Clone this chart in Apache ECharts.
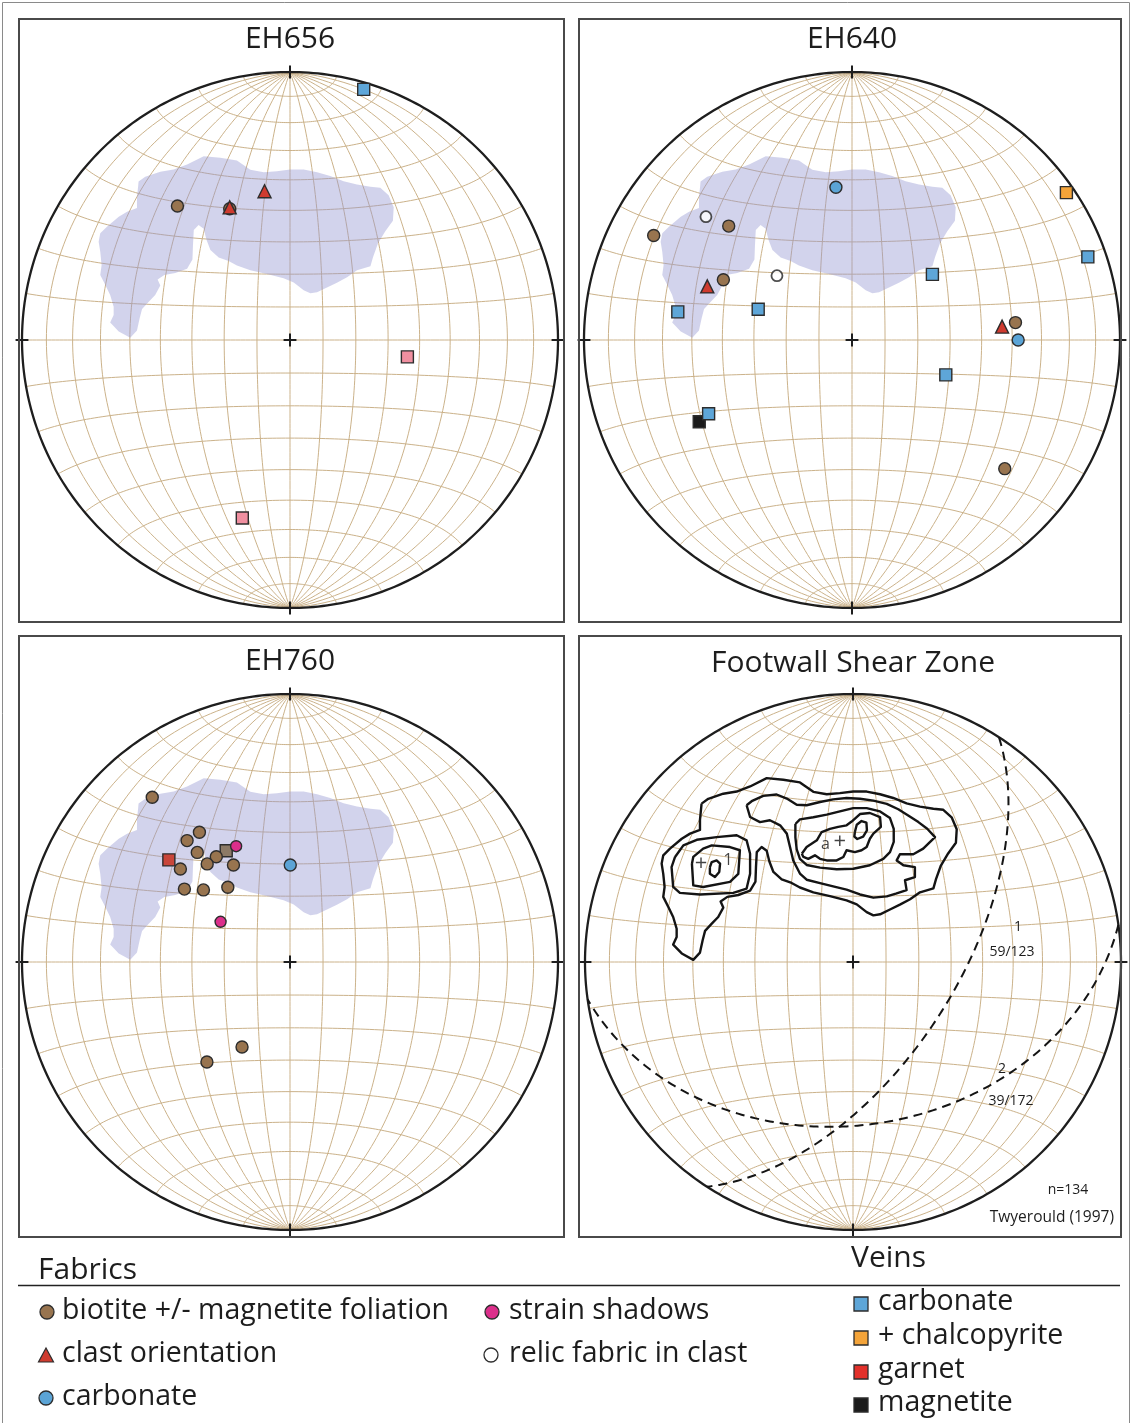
<!DOCTYPE html>
<html>
<head>
<meta charset="utf-8">
<script src="https://cdn.jsdelivr.net/npm/echarts@6/dist/echarts.min.js"></script>
<style>
  html, body { margin: 0; padding: 0; background: #fff; }
  #chart { width: 1132px; height: 1423px; }
</style>
</head>
<body>
<div id="chart"></div>
<script>
// ---------------------------------------------------------------------------
// Poles plotted on a lower-hemisphere equal-area (Schmidt) net.
// Every position is [east, north] in percent of the net radius.
// ---------------------------------------------------------------------------

// EH656
const eh656Biotite   = [[-42, 50], [-22.5, 49]];
const eh656Clast     = [[-22.5, 49.5], [-9.5, 55.5]];
const eh656VeinCarb  = [[27.5, 93.5]];
const eh656VeinPink  = [[43.8, -6.3], [-17.8, -66.4]];

// EH640
const eh640Biotite   = [[-46, 42.5], [-74, 39], [-48, 22.5], [61, 6.5], [57, -48]];
const eh640Clast     = [[-54, 20], [56, 5]];
const eh640Carb      = [[-6, 57], [62, 0]];
const eh640Relic     = [[-54.5, 46], [-28, 24]];
const eh640VeinMag   = [[-57, -30.5]];
const eh640VeinCarb  = [[88, 31], [30, 24.5], [-35, 11.5], [-65, 10.5], [35, -13], [-53.5, -27.5]];
const eh640VeinCpy   = [[80, 55]];

// EH760
const eh760VeinOther = [[-23.8, 41.5]];
const eh760Biotite   = [[-51.4, 61.5], [-33.8, 48.4], [-38.4, 45.3], [-34.6, 40.9], [-27.5, 39.3],
                        [-30.9, 36.6], [-21.1, 36.2], [-40.9, 34.7], [-39.4, 27.2], [-32.3, 26.9],
                        [-23.2, 27.9], [-31.0, -37.3], [-17.9, -31.7]];
const eh760Strain    = [[-20.1, 43.2], [-25.9, 15.0]];
const eh760Carb      = [[0.1, 36.2]];
const eh760VeinGarnet = [[-45.2, 38.1]];

// Footwall shear zone: density contours of 134 poles (Twyerould 1997).
// The lowest contour is also the shaded field on the three drill-hole nets.
const contourOuter = [
  [-56.5, 59.1], [-54.0, 60.9], [-48.4, 62.8], [-43.4, 63.6], [-38.4, 65.5], [-32.2, 68.6],
  [-26.0, 68.0], [-19.8, 67.0], [-14.8, 63.5], [-9.8, 62.6], [-4.9, 63.0], [0.1, 63.6],
  [5.1, 63.6], [10.1, 62.6], [15.0, 61.2], [20.0, 59.2], [25.0, 58.0], [30.0, 57.2],
  [33.7, 56.8], [36.8, 54.0], [38.7, 49.5], [38.4, 44.5], [35.5, 40.5], [32.8, 36.0],
  [31.0, 31.0], [30.0, 27.5], [25.0, 26.0], [21.3, 23.4], [17.5, 21.4], [13.8, 19.6],
  [10.1, 17.8], [7.6, 17.4], [5.1, 18.6], [1.4, 21.5], [-2.4, 23.0], [-8.6, 24.6],
  [-14.8, 26.0], [-19.8, 27.8], [-22.9, 29.5], [-26.6, 30.8], [-29.7, 33.6], [-31.2, 37.5],
  [-32.2, 41.5], [-34.1, 42.9], [-35.9, 41.0], [-36.2, 35.4], [-36.4, 30.0], [-38.4, 26.6],
  [-42.8, 25.0], [-46.9, 24.3], [-49.4, 22.6], [-48.4, 20.3], [-50.3, 16.8], [-52.7, 14.3],
  [-55.2, 11.6], [-56.1, 8.1], [-57.1, 3.5], [-59.6, 0.8], [-63.9, 3.2], [-67.1, 6.5],
  [-65.8, 9.3], [-65.8, 12.4], [-67.1, 16.8], [-68.9, 20.5], [-70.8, 24.3], [-70.3, 28.0],
  [-70.8, 32.9], [-71.4, 36.7], [-70.8, 39.8], [-68.3, 42.3], [-63.9, 46.0], [-60.8, 47.9],
  [-57.1, 49.3], [-57.1, 53.0]
];
const contourWest2 = [
  [-66.4, 39.2], [-63.3, 43.5], [-58.3, 45.6], [-50.9, 46.6], [-43.4, 47.3], [-39.7, 45.4],
  [-38.4, 40.4], [-38.4, 32.9], [-39.7, 27.4], [-44.7, 25.8], [-57.1, 25.2], [-64.6, 25.8],
  [-67.1, 28.0], [-67.7, 35.4]
];
const contourWest3 = [
  [-60.1, 36.7], [-59.6, 28.6], [-55.9, 28.0], [-45.9, 29.9], [-42.8, 32.9], [-42.2, 41.7],
  [-45.9, 42.9], [-52.7, 43.5], [-55.9, 42.3], [-59.6, 39.2]
];
const contourWest4 = [
  [-53.4, 35.4], [-52.7, 37.3], [-50.9, 37.9], [-49.6, 36.7], [-49.9, 33.6], [-51.5, 31.7], [-53.4, 32.9]
];
const contourEast2 = [
  [-39.7, 58.5], [-37.8, 60.0], [-33.5, 62.0], [-28.5, 62.5], [-24.7, 61.0], [-21.0, 58.7],
  [-17.3, 58.5], [-12.3, 59.7], [-7.4, 60.7], [-2.4, 61.2], [2.6, 60.9], [7.6, 60.2],
  [12.6, 59.0], [16.9, 57.0], [20.6, 54.7], [24.4, 52.2], [27.7, 49.7], [30.6, 46.6],
  [26.2, 42.3], [22.5, 40.2], [17.5, 40.2], [16.3, 37.9], [18.8, 36.1], [23.1, 35.4],
  [23.1, 31.7], [19.4, 30.5], [20.0, 26.8], [16.0, 25.5], [12.6, 24.5], [7.6, 24.0],
  [2.6, 25.2], [-2.4, 27.0], [-7.4, 28.2], [-12.3, 29.4], [-17.3, 30.7], [-19.8, 33.0],
  [-22.3, 37.9], [-23.5, 42.9], [-24.7, 47.9], [-27.2, 51.0], [-31.0, 52.9], [-34.7, 52.2],
  [-38.4, 54.1]
];
const contourEast3 = [
  [-21.5, 51.5], [-19.8, 53.2], [-14.8, 54.0], [-9.8, 55.0], [-4.9, 56.2], [0.1, 57.4],
  [5.1, 57.4], [10.1, 56.2], [13.8, 53.7], [15.2, 49.7], [15.2, 44.8], [13.8, 41.0],
  [11.3, 38.5], [6.3, 36.1], [0.1, 34.8], [-6.1, 34.6], [-12.3, 35.2], [-17.3, 36.2],
  [-19.8, 38.5], [-21.0, 42.0], [-21.5, 46.5]
];
const contourEast4 = [
  [-19.1, 40.4], [-17.3, 42.9], [-13.5, 45.4], [-11.7, 48.5], [-8.6, 49.7], [-5.5, 50.4],
  [-2.4, 51.0], [-0.5, 52.4], [2.6, 55.2], [6.3, 55.6], [10.1, 54.1], [10.4, 50.4],
  [7.6, 47.9], [6.3, 46.0], [5.1, 42.9], [3.2, 41.7], [0.7, 41.0], [-2.4, 41.7],
  [-3.6, 39.2], [-6.1, 37.9], [-9.8, 37.9], [-12.3, 38.5], [-14.2, 39.8], [-16.7, 38.5], [-18.5, 39.2]
];
const contourEast5 = [
  [0.7, 48.5], [1.4, 51.2], [3.2, 52.6], [5.0, 52.0], [5.2, 49.1], [3.8, 46.8], [1.6, 45.9], [0.5, 46.8]
];
const contourMaxima = [[-56.7, 36.6], [-4.9, 44.8]];
const contourTags   = [{ pos: [-46.6, 37.8], text: '1' }, { pos: [-10.3, 44.0], text: 'a' }];

// Mean girdles as dip / dip direction
const girdleNames   = ['1', '2'];
const girdleDips    = [59, 39];
const girdleDipDirs = [123, 172];
const sampleCount   = 134;

// Panel titles
const panelTitles = ['EH656', 'EH640', 'EH760', 'Footwall Shear Zone'];

// ---------------------------------------------------------------------------
// Colours
// ---------------------------------------------------------------------------
const C = {
  biotite: '#98744f', clast: '#cf3b2f', carb: '#5ba4d6', strain: '#dc2f8b', relic: '#ffffff',
  veinCarb: '#5ea6d8', veinCpy: '#f4a43a', veinGarnet: '#e2302a', veinMag: '#1b1b1b',
  veinPink: '#f08fa0', veinOther: '#8c7a66', edge: '#2d2d2d', grid: '#cbb28a',
  field: 'rgba(148,150,210,0.42)'
};

// ---------------------------------------------------------------------------
// Equal-area net geometry
// ---------------------------------------------------------------------------
function toNet(n, e, d) {               // unit vector -> lower hemisphere, radius 100
  if (d < 0) { n = -n; e = -e; d = -d; }
  const k = 100 / Math.sqrt(1 + d);
  return [e * k, n * k];
}
function netGraticule() {
  const out = [], N = 120;
  for (let a = 10; a < 180; a += 10) {              // small circles about the N-S axis
    const ar = a * Math.PI / 180, pts = [];
    for (let j = 0; j <= N; j++) {
      const f = Math.PI * j / N;
      pts.push(toNet(Math.cos(ar), Math.sin(ar) * Math.cos(f), Math.sin(ar) * Math.sin(f)));
    }
    out.push({ coords: pts });
  }
  for (let dip = 10; dip < 180; dip += 10) {        // great circles striking N-S
    const dr = dip * Math.PI / 180, pts = [];
    for (let j = 0; j <= N; j++) {
      const t = Math.PI * j / N;
      pts.push(toNet(Math.cos(t), Math.sin(t) * Math.cos(dr), Math.sin(t) * Math.sin(dr)));
    }
    out.push({ coords: pts });
  }
  return out;
}
function primitive() {
  const pts = [];
  for (let j = 0; j <= 360; j++) {
    const a = j * Math.PI / 180;
    pts.push([100 * Math.cos(a), 100 * Math.sin(a)]);
  }
  return [{ coords: pts }];
}
function crosses() {
  const h = 2.4, out = [];
  [[0, 0], [0, 100], [100, 0], [0, -100], [-100, 0]].forEach(([x, y]) => {
    out.push({ coords: [[x - h, y], [x + h, y]] });
    out.push({ coords: [[x, y - h], [x, y + h]] });
  });
  return out;
}
function girdle(dip, dipDir) {
  const s = (dipDir - 90) * Math.PI / 180, dd = dipDir * Math.PI / 180, dr = dip * Math.PI / 180;
  const pts = [];
  for (let j = 0; j <= 180; j++) {
    const b = Math.PI * j / 180;
    const n = Math.cos(b) * Math.cos(s) + Math.sin(b) * Math.cos(dd) * Math.cos(dr);
    const e = Math.cos(b) * Math.sin(s) + Math.sin(b) * Math.sin(dd) * Math.cos(dr);
    pts.push(toNet(n, e, Math.sin(b) * Math.sin(dr)));
  }
  return pts;
}
const closed = arr => arr.concat([arr[0]]);

// ---------------------------------------------------------------------------
// Layout
// ---------------------------------------------------------------------------
const R = 268;
const centres = [[290, 340], [852, 340], [290, 962], [853, 962]];
const frames = [[19, 19, 545, 603], [579, 19, 542, 603], [19, 636, 545, 601], [579, 636, 542, 601]];
const titleY = [39, 39, 661, 663];

const grid = centres.map(([cx, cy]) => ({ left: cx - R, top: cy - R, width: 2 * R, height: 2 * R }));
const xAxis = centres.map((_, i) => ({ type: 'value', gridIndex: i, min: -100, max: 100, show: false }));
const yAxis = centres.map((_, i) => ({ type: 'value', gridIndex: i, min: -100, max: 100, show: false }));

const series = [];
const graticule = netGraticule();

centres.forEach((_, i) => {
  series.push({
    type: 'lines', coordinateSystem: 'cartesian2d', xAxisIndex: i, yAxisIndex: i,
    polyline: true, silent: true, z: 1, data: graticule,
    lineStyle: { color: C.grid, width: 1, opacity: 1 }
  });
  if (i < 3) {
    series.push({
      type: 'custom', xAxisIndex: i, yAxisIndex: i, silent: true, z: 2, data: [[0, 0]],
      renderItem: (params, api) => ({
        type: 'polygon',
        shape: { points: contourOuter.map(p => api.coord(p)) },
        style: { fill: C.field }
      })
    });
  }
  series.push({
    type: 'lines', coordinateSystem: 'cartesian2d', xAxisIndex: i, yAxisIndex: i,
    polyline: true, silent: true, z: 3, data: primitive(),
    lineStyle: { color: '#1e1e1e', width: 2.3, opacity: 1 }
  });
  series.push({
    type: 'lines', coordinateSystem: 'cartesian2d', xAxisIndex: i, yAxisIndex: i,
    polyline: true, silent: true, z: 3, clip: false, data: crosses(),
    lineStyle: { color: '#1e1e1e', width: 2, opacity: 1 }
  });
});

function pts(i, data, symbol, color, size, extra) {
  return Object.assign({
    type: 'scatter', xAxisIndex: i, yAxisIndex: i, data, symbol, symbolSize: size,
    silent: true, clip: false, z: 10,
    itemStyle: { color, borderColor: C.edge, borderWidth: 1.4, opacity: 1 }
  }, extra || {});
}

// EH656
series.push(pts(0, eh656Biotite, 'circle', C.biotite, 12));
series.push(pts(0, eh656Clast, 'triangle', C.clast, 13));
series.push(pts(0, eh656VeinCarb, 'rect', C.veinCarb, 12));
series.push(pts(0, eh656VeinPink, 'rect', C.veinPink, 12));
// EH640
series.push(pts(1, eh640Biotite, 'circle', C.biotite, 12));
series.push(pts(1, eh640Clast, 'triangle', C.clast, 13));
series.push(pts(1, eh640Carb, 'circle', C.carb, 12));
series.push(pts(1, eh640Relic, 'circle', C.relic, 11, { itemStyle: { color: '#fff', borderColor: '#222', borderWidth: 1.8 } }));
series.push(pts(1, eh640VeinMag, 'rect', C.veinMag, 12));
series.push(pts(1, eh640VeinCarb, 'rect', C.veinCarb, 12));
series.push(pts(1, eh640VeinCpy, 'rect', C.veinCpy, 12));
// EH760
series.push(pts(2, eh760VeinOther, 'rect', C.veinOther, 12));
series.push(pts(2, eh760Biotite, 'circle', C.biotite, 12));
series.push(pts(2, eh760Strain, 'circle', C.strain, 11));
series.push(pts(2, eh760Carb, 'circle', C.carb, 12));
series.push(pts(2, eh760VeinGarnet, 'rect', '#c9463a', 12));

// Footwall shear zone
series.push({
  type: 'lines', coordinateSystem: 'cartesian2d', xAxisIndex: 3, yAxisIndex: 3,
  polyline: true, silent: true, z: 6,
  data: [contourOuter, contourWest2, contourWest3, contourWest4,
         contourEast2, contourEast3, contourEast4, contourEast5].map(c => ({ coords: closed(c) })),
  lineStyle: { color: '#141414', width: 2.4, opacity: 1, join: 'round' }
});
series.push({
  type: 'lines', coordinateSystem: 'cartesian2d', xAxisIndex: 3, yAxisIndex: 3,
  polyline: true, silent: true, z: 6,
  data: girdleDips.map((d, k) => ({ coords: girdle(d, girdleDipDirs[k]) })),
  lineStyle: { color: '#141414', width: 2, type: [9, 6], opacity: 1 }
});
series.push({
  type: 'scatter', xAxisIndex: 3, yAxisIndex: 3, symbolSize: 0, silent: true, z: 7,
  data: contourMaxima.map(p => ({ value: p, name: '+' })),
  label: { show: true, position: 'inside', formatter: p => p.name, color: '#141414',
           fontFamily: 'Open Sans', fontSize: 22 }
});
series.push({
  type: 'scatter', xAxisIndex: 3, yAxisIndex: 3, symbolSize: 0, silent: true, z: 7,
  data: contourTags.map(t => ({ value: t.pos, name: t.text })),
  label: { show: true, position: 'inside', formatter: p => p.name, color: '#141414',
           fontFamily: 'Open Sans', fontSize: 16 }
});

// ---------------------------------------------------------------------------
// Frames, titles, annotations and key
// ---------------------------------------------------------------------------
const font = (s) => s + 'px "Open Sans", "Noto Sans", sans-serif';
const text = (t, x, y, size, align) => ({
  type: 'text', silent: true, z: 20,
  style: { text: t, x, y, font: font(size), fill: '#1d1d1d',
           align: align || 'left', verticalAlign: 'middle',
           textAlign: align || 'left', textVerticalAlign: 'middle' }
});

const graphic = [];
graphic.push({ type: 'rect', silent: true, z: 0, shape: { x: 2.5, y: 2.5, width: 1127, height: 1460 },
               style: { fill: 'none', stroke: '#8a8a8a', lineWidth: 1 } });
frames.forEach(([x, y, w, h]) => graphic.push({
  type: 'rect', silent: true, z: 20, shape: { x, y, width: w, height: h },
  style: { fill: 'none', stroke: '#4a4a4a', lineWidth: 2 }
}));
panelTitles.forEach((t, i) => graphic.push(text(t, centres[i][0], titleY[i], 30, 'center')));

graphic.push(text(girdleNames[0], 1018, 927, 14, 'center'));
graphic.push(text(girdleDips[0] + '/' + girdleDipDirs[0], 1012, 952, 14, 'center'));
graphic.push(text(girdleNames[1], 1002, 1069, 14, 'center'));
graphic.push(text(girdleDips[1] + '/' + girdleDipDirs[1], 1011, 1101, 14, 'center'));
graphic.push(text('n=' + sampleCount, 1068, 1190, 14, 'center'));
graphic.push(text('Twyerould (1997)', 1114, 1218, 15.5, 'right'));

// Key
graphic.push(text('Fabrics', 38, 1270, 30));
graphic.push(text('Veins', 851, 1258, 30));
graphic.push({ type: 'line', silent: true, z: 20, shape: { x1: 18, y1: 1285.5, x2: 1120, y2: 1285.5 },
               style: { stroke: '#222', lineWidth: 1.6 } });

const keyCircle = (cx, cy, fill) => ({ type: 'circle', silent: true, z: 20, shape: { cx, cy, r: 7 },
  style: { fill, stroke: C.edge, lineWidth: 1.3 } });
const keySquare = (cx, cy, fill) => ({ type: 'rect', silent: true, z: 20, shape: { x: cx - 7, y: cy - 7, width: 14, height: 14 },
  style: { fill, stroke: C.edge, lineWidth: 1.3 } });

graphic.push(keyCircle(47, 1312, C.biotite));
graphic.push(text('biotite +/- magnetite foliation', 62, 1311, 28.5));
graphic.push({ type: 'polygon', silent: true, z: 20, shape: { points: [[46, 1348], [38.5, 1362], [53.5, 1362]] },
               style: { fill: C.clast, stroke: C.edge, lineWidth: 1.2 } });
graphic.push(text('clast orientation', 62, 1354, 28.5));
graphic.push(keyCircle(46, 1398, C.carb));
graphic.push(text('carbonate', 62, 1397, 28.5));
graphic.push(keyCircle(492, 1312, C.strain));
graphic.push(text('strain shadows', 509, 1311, 28.5));
graphic.push(keyCircle(491, 1355, '#fff'));
graphic.push(text('relic fabric in clast', 509, 1354, 28.5));

graphic.push(keySquare(861, 1304, C.veinCarb));
graphic.push(text('carbonate', 878, 1302, 28.5));
graphic.push(keySquare(861, 1338, C.veinCpy));
graphic.push(text('+ chalcopyrite', 878, 1336, 28.5));
graphic.push(keySquare(861, 1372, C.veinGarnet));
graphic.push(text('garnet', 878, 1370, 28.5));
graphic.push(keySquare(861, 1405, C.veinMag));
graphic.push(text('magnetite', 878, 1403, 28.5));

const chart = echarts.init(document.getElementById('chart'), null, { renderer: 'canvas' });
chart.setOption({
  backgroundColor: '#ffffff',
  animation: false,
  grid, xAxis, yAxis, series, graphic
});
</script>
</body>
</html>
